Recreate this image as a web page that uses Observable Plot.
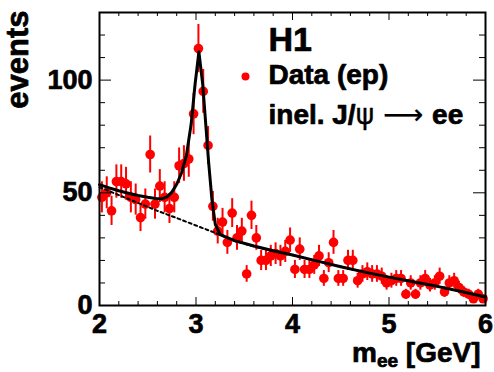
<!DOCTYPE html>
<html><head><meta charset="utf-8">
<script src="https://cdn.jsdelivr.net/npm/d3@7"></script>
<script src="https://cdn.jsdelivr.net/npm/@observablehq/plot@0.6"></script>
<style>
html,body{margin:0;padding:0;background:#fff;}
#chart svg{display:block;}
</style></head><body><div id="chart"></div>
<script>
// bin centres (GeV)
const mass = [2.025,2.075,2.125,2.175,2.225,2.275,2.325,2.375,2.425,2.475,
  2.525,2.575,2.625,2.675,2.725,2.775,2.825,2.875,2.925,2.975,
  3.025,3.075,3.125,3.175,3.225,3.275,3.325,3.375,3.425,3.475,
  3.525,3.575,3.625,3.675,3.725,3.775,3.825,3.875,3.925,3.975,
  4.025,4.075,4.125,4.175,4.225,4.275,4.325,4.375,4.425,4.475,
  4.525,4.575,4.625,4.675,4.725,4.775,4.825,4.875,4.925,4.975,
  5.025,5.075,5.125,5.175,5.225,5.275,5.325,5.375,5.425,5.475,
  5.525,5.575,5.625,5.675,5.725,5.775,5.825,5.875,5.925,5.975];
const counts = [48,50,42,55,55,54,48,47,39,45,
  67,45,53,48,43,48,62,63,65,85,
  114,95,71,44,33,37,28,41,30,33,
  14,40,30,20,20,22,23,22,24,29,
  16,25,16,16,18,22,12,19,28,12,
  12,20,20,11,14,15,14,14,13,10,
  11,12,12,5,10,5,10,12,9,10,
  13,6,10,11,8,6,5,3,5,3];
const errors = [6.9,7.1,6.5,7.4,7.4,7.3,6.9,6.9,6.2,6.7,
  8.2,6.7,7.3,6.9,6.6,6.9,7.9,7.9,8.1,9.2,
  10.7,9.7,8.4,6.6,5.7,6.1,5.3,6.4,5.5,5.7,
  3.7,6.3,5.5,4.5,4.5,4.7,4.8,4.7,4.9,5.4,
  4.0,5.0,4.0,4.0,4.2,4.7,3.5,4.4,5.3,3.5,
  3.5,4.5,4.5,3.3,3.7,3.9,3.7,3.7,3.6,3.2,
  3.3,3.5,3.5,2.2,3.2,2.2,3.2,3.5,3.0,3.2,
  3.6,2.4,3.2,3.3,2.8,2.4,2.2,1.7,2.2,1.7];
// fit curve (signal + background)
const fitMass = [2.0,2.1,2.2,2.3,2.4,2.5,2.6,2.65,2.7,2.75,2.8,2.85,2.9,2.95,2.99,3.03,3.07,3.1,3.13,3.165,3.2,3.25,3.3,3.4,3.6,3.8,4.0,4.25,4.5,4.75,5.0,5.25,5.5,5.75,6.0];
const fitEvents = [53.6,52.2,50.9,49.8,48.8,48.0,47.4,47.4,48.2,50.3,53.8,58.8,66.5,80.5,98,112.5,98,81,64,47,36,31.5,30.6,28.8,26.4,24.3,22.4,19.8,17.2,14.8,12.6,10.5,8.5,6.2,3.8];
// background only (dashed)
const bkgMass = [2.0,2.2,2.4,2.6,2.8,3.0,3.2,3.4,3.6,3.8,4.0,4.25,4.5,4.75,5.0,5.25,5.5,5.75,6.0];
const bkgEvents = [52.5,49,45.5,42,38.8,35.5,32.2,28.6,26.2,24.2,22.4,19.8,17.2,14.8,12.6,10.5,8.5,6.2,3.8];
// ticks
const xMajor = [2,3,4,5,6];
const xMinor = [2.2,2.4,2.6,2.8,3.2,3.4,3.6,3.8,4.2,4.4,4.6,4.8,5.2,5.4,5.6,5.8];
const yMajor = [0,50,100];
const yMinor = [10,20,30,40,60,70,80,90,110,120];

const W = 494, H = 372, mL = 99, mR = 9, mT = 12, mB = 67;
const innerW = W - mL - mR, innerH = H - mT - mB;

const points = mass.map((m, i) => ({m, n: counts[i], e: errors[i]}));
const fit = fitMass.map((m, i) => ({m, v: fitEvents[i]}));
const bkg = bkgMass.map((m, i) => ({m, v: bkgEvents[i]}));

const font = "'Liberation Sans', Arial, Helvetica, sans-serif";
const heavy = {fill: "black", stroke: "black", strokeWidth: 0.7};
const chart = Plot.plot({
  width: W, height: H,
  marginLeft: mL, marginRight: mR, marginTop: mT, marginBottom: mB,
  x: {domain: [2, 6], axis: null},
  y: {domain: [0, 130], axis: null},
  style: {fontFamily: font, fontWeight: "bold", background: "white", color: "black"},
  marks: [
    Plot.ruleX(points, {x: "m", y1: d => d.n - d.e, y2: d => d.n + d.e, stroke: "#ff0000", strokeWidth: 2}),
    Plot.dot(points, {x: "m", y: "n", r: 4.8, fill: "#ff0000"}),
    Plot.line(bkg, {x: "m", y: "v", stroke: "black", strokeWidth: 2, strokeDasharray: "3,3"}),
    Plot.line(fit, {x: "m", y: "v", stroke: "black", strokeWidth: 3}),
    // ticks bottom / top
    Plot.tickX(xMajor, {x: d => d, insetTop: innerH - 8, stroke: "black", strokeWidth: 1}),
    Plot.tickX(xMinor, {x: d => d, insetTop: innerH - 4, stroke: "black", strokeWidth: 1}),
    Plot.tickX(xMajor, {x: d => d, insetBottom: innerH - 8, stroke: "black", strokeWidth: 1}),
    Plot.tickX(xMinor, {x: d => d, insetBottom: innerH - 4, stroke: "black", strokeWidth: 1}),
    // ticks left / right
    Plot.tickY(yMajor, {y: d => d, insetRight: innerW - 12, stroke: "black", strokeWidth: 1}),
    Plot.tickY(yMinor, {y: d => d, insetRight: innerW - 6, stroke: "black", strokeWidth: 1}),
    Plot.tickY(yMajor, {y: d => d, insetLeft: innerW - 12, stroke: "black", strokeWidth: 1}),
    Plot.tickY(yMinor, {y: d => d, insetLeft: innerW - 6, stroke: "black", strokeWidth: 1}),
    Plot.frame({stroke: "black", strokeWidth: 2}),
    // tick labels
    Plot.text(xMajor, {x: d => d, text: d => String(d), frameAnchor: "bottom", lineAnchor: "top", dy: 8, fontSize: 27, ...heavy}),
    Plot.text(yMajor, {y: d => d, text: d => String(d), frameAnchor: "left", textAnchor: "end", dx: -7, fontSize: 27, ...heavy}),
    // axis titles
    Plot.text(["mee [GeV]"], {text: d => d, frameAnchor: "bottom-right", textAnchor: "end", lineAnchor: "bottom", dx: -5, dy: 56, fontSize: 28, ...heavy}),
    Plot.text(["events"], {text: d => d, frameAnchor: "top-left", rotate: -90, textAnchor: "end", lineAnchor: "bottom", dx: -72, dy: -2, fontSize: 31, ...heavy}),
    // legend
    Plot.text(["H1"], {text: d => d, frameAnchor: "top-left", textAnchor: "start", lineAnchor: "bottom", dx: 169, dy: 38, fontSize: 34, ...heavy}),
    Plot.dot(["Data (ep)"], {frameAnchor: "top-left", dx: 146, dy: 64, r: 4, fill: "#ff0000"}),
    Plot.text(["Data (ep)"], {text: d => d, frameAnchor: "top-left", textAnchor: "start", lineAnchor: "bottom", dx: 169, dy: 71, fontSize: 28, ...heavy}),
    Plot.text(["inel. J/ψ → ee"], {text: d => d, frameAnchor: "top-left", textAnchor: "start", lineAnchor: "bottom", dx: 169, dy: 111, fontSize: 28, ...heavy})
  ]
});
document.getElementById("chart").appendChild(chart);

d3.select(chart).selectAll("text").each(function () {
  const t = d3.select(this);
  const s = t.text();
  if (s === "mee [GeV]") {
    t.text(null);
    t.append("tspan").text("m");
    t.append("tspan").attr("font-size", 19).attr("dy", 5).text("ee");
    t.append("tspan").attr("dy", -5).text(" [GeV]");
  } else if (s === "inel. J/ψ → ee") {
    t.text(null);
    t.append("tspan").text("inel. J/");
    t.append("tspan").attr("font-weight", "normal").attr("stroke-width", 0.3).attr("font-family", "'DejaVu Sans', sans-serif").text("ψ");
    t.append("tspan").attr("font-weight", "normal").attr("stroke-width", 0.2).attr("font-family", "'DejaVu Sans', sans-serif").text(" \u27F6 ");
    t.append("tspan").text("ee");
  }
});
</script>
</body></html>
